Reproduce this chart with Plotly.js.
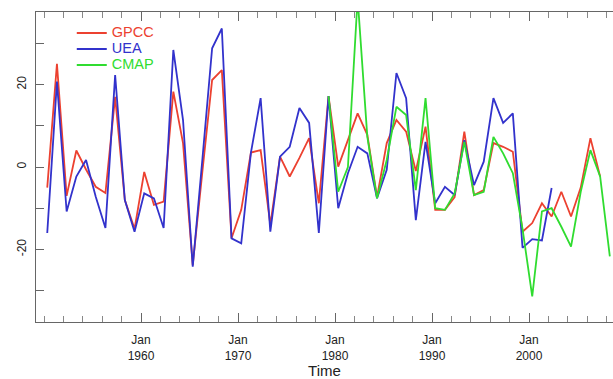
<!DOCTYPE html>
<html>
<head>
<meta charset="utf-8">
<script src="https://cdn.plot.ly/plotly-3.0.1.min.js"></script>
<style>html,body{margin:0;padding:0;background:#fff;}#chart{width:613px;height:379px;}</style>
</head>
<body>
<div id="chart"></div>
<script>
// Years of the annual series (1950-2008)
const years = [];
for (let y = 1950; y <= 2008; y++) years.push(y);

const gpcc = [-5, 25, -7, 4, -0.6, -4.8, -6.3, 17, -8, -15,
  -1.2, -9.2, -8.4, 18.3, 5.8, -23.8, -1, 21.1, 23.5, -17.3,
  -10.4, 3.5, 4.1, -14, 2.5, -2.3, 2.2, 7, -8.8, 17.2,
  0.1, 6.5, 13, 7.8, -7.3, 5.8, 11.4, 8.6, -1, 9.8,
  -10.4, -10.4, -7.3, 8.6, -6.8, -5.6, 5.8, 4.9, 3.7, -15.7,
  -13.6, -8.8, -12, -6, -12, -5, 7, -2.3, null];

const uea = [-16, 20.7, -10.8, -2.3, 1.7, -7.2, -14.8, 22.3, -8, -15.7,
  -6.4, -7.6, -14.8, 28.4, 11.4, -24.2, 2, 28.8, 33.6, -17.3,
  -18.5, 3.5, 16.7, -15.7, 2.5, 4.9, 14.3, 10.7, -16, 17.2,
  -10, -1.5, 4.9, 3.3, -7.6, -0.7, 22.8, 16.7, -12.9, 6.1,
  -8.8, -4.8, -6.8, 6.5, -4.4, 1.3, 16.7, 10.7, 13, -19.6,
  -17.5, -17.8, -5.1, null, null, null, null, null, null];

const cmap = [null, null, null, null, null, null, null, null, null, null,
  null, null, null, null, null, null, null, null, null, null,
  null, null, null, null, null, null, null, null, null, 17.2,
  -6, 0, 41, 7.3, -7.6, 1.7, 14.6, 12.6, -5.6, 16.7,
  -10, -10.4, -6.4, 6.1, -6.8, -6, 7.3, 3.3, -1.5, -15,
  -31.4, -10.8, -10, -14.5, -19.3, -6, 4.1, -2.3, -21.7];

const decadeLabels = [1960, 1970, 1980, 1990, 2000];
const yTicks = [-30, -20, -10, 0, 10, 20, 30];
const yLabels = ['', '-20', '', '0', '', '20', ''];

// series sampled in May of each year
const time = years.map(y => y + 4 / 12);

const colors = {gpcc: '#ec4130', uea: '#3232cc', cmap: '#30dc30'};
const lbl = (t, c) => '<span style="color:' + c + ';font-size:14.5px">' + t + '</span>';

const traces = [
  {x: time, y: gpcc, name: lbl('GPCC', colors.gpcc), type: 'scatter', mode: 'lines',
   line: {color: colors.gpcc, width: 1.8}, legend: 'legend'},
  {x: time, y: uea, name: lbl('UEA', colors.uea), type: 'scatter', mode: 'lines',
   line: {color: colors.uea, width: 1.8}, legend: 'legend2'},
  {x: time, y: cmap, name: lbl('CMAP', colors.cmap), type: 'scatter', mode: 'lines',
   line: {color: colors.cmap, width: 1.8}, legend: 'legend3'}
];

const evenYears = years.filter(y => y % 2 === 0);

const legBase = {x: 0.062, xanchor: 'left', yanchor: 'middle', bgcolor: 'rgba(0,0,0,0)', font: {size: 10}};

const layout = {
  width: 613, height: 379,
  margin: {l: 36, r: 0, t: 12, b: 57},
  paper_bgcolor: '#fff', plot_bgcolor: '#fff',
  font: {family: 'Liberation Sans, Arial, sans-serif', color: '#222', size: 12},
  showlegend: true,
  legend: Object.assign({}, legBase, {y: 0.9323}),
  legend2: Object.assign({}, legBase, {y: 0.8806}),
  legend3: Object.assign({}, legBase, {y: 0.829}),
  xaxis: {
    range: [1949.175, 2008.66],
    tickmode: 'array', tickvals: decadeLabels,
    ticktext: decadeLabels.map(d => 'Jan<br>' + d),
    ticks: 'inside', ticklen: 9, tickcolor: '#666', tickwidth: 1,
    minor: {tickmode: 'array', tickvals: evenYears, ticks: 'inside', ticklen: 6, tickcolor: '#888', tickwidth: 1},
    showline: true, linecolor: '#666', linewidth: 1, mirror: 'allticks',
    showgrid: false, zeroline: false,
    ticklabelstandoff: 7,
    tickfont: {size: 12, color: '#222'},
    title: {text: 'Time', font: {size: 15, color: '#222'}, standoff: 4},
    automargin: false
  },
  yaxis: {
    range: [-37.6, 37.6],
    tickmode: 'array', tickvals: yTicks, ticktext: yLabels,
    ticks: 'inside', ticklen: 8, tickcolor: '#666', tickwidth: 1,
    tickangle: -90,
    showline: true, linecolor: '#666', linewidth: 1, mirror: false,
    showgrid: false, zeroline: false,
    ticklabelstandoff: 4,
    tickfont: {size: 12, color: '#222'},
    automargin: false
  }
};

Plotly.newPlot('chart', traces, layout, {displayModeBar: false, staticPlot: true});
</script>
</body>
</html>
